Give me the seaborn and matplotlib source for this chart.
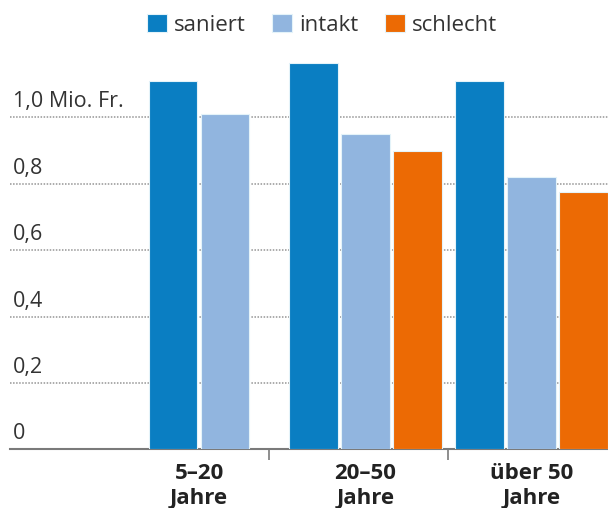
import matplotlib
matplotlib.use("Agg")
import matplotlib.pyplot as plt
import matplotlib.transforms as mtransforms
import seaborn as sns
import pandas as pd

# ---- data ----
groups = ["5–20\nJahre", "20–50\nJahre", "über 50\nJahre"]
status = ["saniert", "intakt", "schlecht"]
saniert = [1.11, 1.165, 1.11]
intakt = [1.01, 0.95, 0.82]
schlecht = [None, 0.90, 0.775]
ytick_vals = [0, 0.2, 0.4, 0.6, 0.8, 1.0]
ytick_labels = ["0", "0,2", "0,4", "0,6", "0,8", "1,0 Mio. Fr."]
colors = {"saniert": "#0a7ec2", "intakt": "#91b5df", "schlecht": "#ec6a04"}

rows = []
for g, a, b, c in zip(groups, saniert, intakt, schlecht):
    for s, v in zip(status, (a, b, c)):
        if v is not None:
            rows.append({"Gruppe": g, "Zustand": s, "Wert": v})
df = pd.DataFrame(rows)

sns.set_theme(style="white")
plt.rcParams["font.family"] = ["Open Sans", "DejaVu Sans"]
TXT = "#333333"

fig = plt.figure(figsize=(6.08, 5.08), dpi=100)
W, H = 608, 508
ax_left, ax_right, ax_bottom, ax_top = 10, 608, 449.3, 40
ax = fig.add_axes([ax_left / W, (H - ax_bottom) / H,
                   (ax_right - ax_left) / W, (ax_bottom - ax_top) / H])

total_w = 0.9375
sns.barplot(data=df, x="Gruppe", y="Wert", hue="Zustand", order=groups,
            hue_order=status, palette=colors, saturation=1, width=total_w,
            gap=0.06, errorbar=None, edgecolor="#e4f3f9", linewidth=0.8,
            ax=ax, zorder=3)

# centre the two bars of the first group (no "schlecht" bar there)
slot = total_w / len(status)
for p in ax.patches:
    cx = p.get_x() + p.get_width() / 2
    if cx < 0.5:
        p.set_x(p.get_x() + slot / 2)

# x-range / y-range
unit_px = 166.3
c0_px = 199.0
ax.set_xlim((ax_left - c0_px) / unit_px, (ax_right - c0_px) / unit_px)
px_per_y = 332.0
ax.set_ylim(0, (ax_bottom - ax_top) / px_per_y)

# gridlines
ax.set_yticks(ytick_vals)
ax.yaxis.grid(True, color="#959595", linestyle=(0, (1, 1)), linewidth=1.1,
              zorder=0)
ax.set_axisbelow(True)
ax.tick_params(axis="y", length=0, labelleft=False)

# y labels above gridlines on the left
trans = mtransforms.blended_transform_factory(ax.transAxes, ax.transData)
off = mtransforms.ScaledTranslation(0, 10 / 100, fig.dpi_scale_trans)
for v, lab in zip(ytick_vals, ytick_labels):
    ax.text(0.005, v, lab, transform=trans + off, ha="left", va="baseline",
            fontsize=15.5, color=TXT)

# spines
for s in ["left", "right", "top"]:
    ax.spines[s].set_visible(False)
ax.spines["bottom"].set_color("#7a7a7a")
ax.spines["bottom"].set_linewidth(1.5)

# x labels
ax.set_xlabel("")
ax.set_ylabel("")
ax.tick_params(axis="x", which="major", length=0, pad=10)
for t in ax.get_xticklabels():
    t.set_fontweight("bold")
    t.set_fontsize(16)
    t.set_color("#222222")
    t.set_linespacing(1.22)

# separator ticks halfway between neighbouring groups' bars
bars = sorted(ax.patches, key=lambda p: p.get_x())
edges = []
for i in range(len(groups) - 1):
    right_end = max(p.get_x() + p.get_width() for p in bars
                    if i - 0.5 < p.get_x() + p.get_width() / 2 < i + 0.5)
    left_start = min(p.get_x() for p in bars
                     if i + 0.5 < p.get_x() + p.get_width() / 2 < i + 1.5)
    edges.append((right_end + left_start) / 2)
ax.set_xticks(edges, minor=True)
ax.tick_params(axis="x", which="minor", length=8, width=1.2,
               color="#7a7a7a", direction="out", bottom=True)

# legend on top
sns.move_legend(ax, "center", bbox_to_anchor=(322 / W, 1 - 25 / H),
                bbox_transform=fig.transFigure, ncol=3, title=None,
                frameon=False, fontsize=16, handlelength=0.9,
                handleheight=0.9, handletextpad=0.3, columnspacing=1.2)
for t in ax.get_legend().get_texts():
    t.set_color(TXT)

fig.savefig("out.png", dpi=100)
